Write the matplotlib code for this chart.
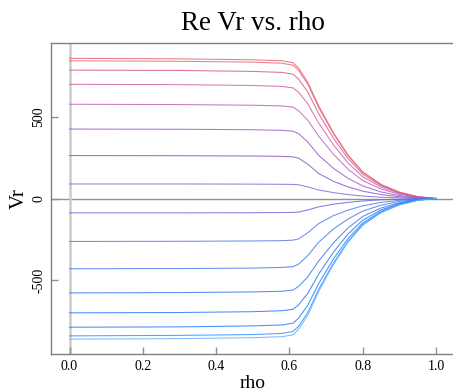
import matplotlib
matplotlib.use('Agg')
import matplotlib.pyplot as plt

rho = [0.0, 0.3, 0.5, 0.58, 0.61, 0.625, 0.65, 0.68, 0.72, 0.76, 0.8, 0.85, 0.9, 0.95, 1.0]

# Re Vr curves, top to bottom
vr_858 = [858, 855, 849, 843, 831, 798, 712, 566, 403, 266, 163, 86, 39, 11, 0]
vr_843 = [843, 840, 835, 828, 816, 784, 700, 556, 396, 261, 160, 84, 38, 11, 0]
vr_786 = [786, 784, 778, 772, 761, 731, 652, 519, 369, 244, 149, 79, 35, 10, 0]
vr_699 = [699, 697, 692, 686, 677, 650, 580, 461, 329, 217, 133, 70, 31, 9, 0]
vr_577 = [577, 575, 571, 567, 559, 537, 479, 381, 271, 179, 110, 58, 26, 8, 0]
vr_425 = [425, 424, 421, 417, 412, 397, 346, 264, 185, 123, 77, 40, 18, 5, 0]
vr_263 = [263, 262, 260, 258, 255, 247, 210, 153, 105, 71, 45, 24, 11, 3, 0]
vr_89 = [89, 89, 88, 87, 86, 84, 71, 52, 36, 24, 15, 8, 4, 1, 0]
vr_m88 = [-88, -88, -87, -86, -85, -83, -70, -51, -35, -24, -15, -8, -4, -1, 0]
vr_m263 = [-263, -262, -260, -258, -255, -247, -210, -153, -105, -71, -45, -24, -11, -3, 0]
vr_m430 = [-430, -429, -426, -422, -417, -402, -350, -267, -187, -125, -77, -41, -18, -5, 0]
vr_m578 = [-578, -576, -572, -568, -560, -538, -480, -382, -272, -180, -110, -58, -26, -8, 0]
vr_m700 = [-700, -698, -693, -687, -678, -651, -581, -462, -329, -217, -133, -70, -31, -9, 0]
vr_m788 = [-788, -786, -780, -774, -763, -733, -654, -520, -370, -245, -150, -79, -35, -10, 0]
vr_m841 = [-841, -838, -833, -826, -814, -782, -698, -555, -395, -261, -160, -84, -38, -11, 0]
vr_m861 = [-861, -858, -852, -846, -834, -801, -715, -568, -404, -267, -164, -86, -39, -11, 0]

curves = [vr_858, vr_843, vr_786, vr_699, vr_577, vr_425, vr_263, vr_89,
          vr_m88, vr_m263, vr_m430, vr_m578, vr_m700, vr_m788, vr_m841, vr_m861]
colors = ['#e8606a', '#e06878', '#d85890', '#cc60a8', '#c060c0', '#a058c8', '#8858c8', '#7870d8',
          '#6868e0', '#5878e8', '#4878f0', '#3878f0', '#2878f8', '#2080ff', '#3090ff', '#60b0ff']

x_ticks = [0.0, 0.2, 0.4, 0.6, 0.8, 1.0]
y_ticks = [-500, 0, 500]

plt.rcParams['font.family'] = 'Liberation Serif'

W, H = 453, 392
fig = plt.figure(figsize=(W / 100, H / 100), dpi=100)
ax = fig.add_axes([51 / W, (H - 354) / H, 404 / W, (354 - 43) / H])

ax.axhline(0, color='#909090', lw=1.0, zorder=1)
ax.axvline(0, color='#cccccc', lw=1.8, zorder=1)

for vals, col in zip(curves, colors):
    ax.plot(rho, vals, color=col, lw=0.75, alpha=0.85, zorder=2)

ax.set_xlim(-0.0505, 1.0517)
ax.set_ylim(-952, 952)
ax.set_xticks(x_ticks)
ax.set_xticklabels([f'{t:.1f}' for t in x_ticks])
ax.set_yticks(y_ticks)
ax.set_yticklabels([str(t) for t in y_ticks], rotation=90, va='center')

for side in ['left', 'bottom', 'top']:
    ax.spines[side].set_color('#808080')
    ax.spines[side].set_linewidth(1.0)
ax.spines['right'].set_visible(False)
ax.tick_params(direction='in', length=5, width=1.0, color='#909090', labelsize=10, pad=4)

ax.set_title('Re Vr vs. rho', fontsize=19.5, pad=9)
ax.set_xlabel('rho', fontsize=14, labelpad=2)
ax.set_ylabel('Vr', fontsize=15, labelpad=3)

fig.savefig('out.png', dpi=100)
